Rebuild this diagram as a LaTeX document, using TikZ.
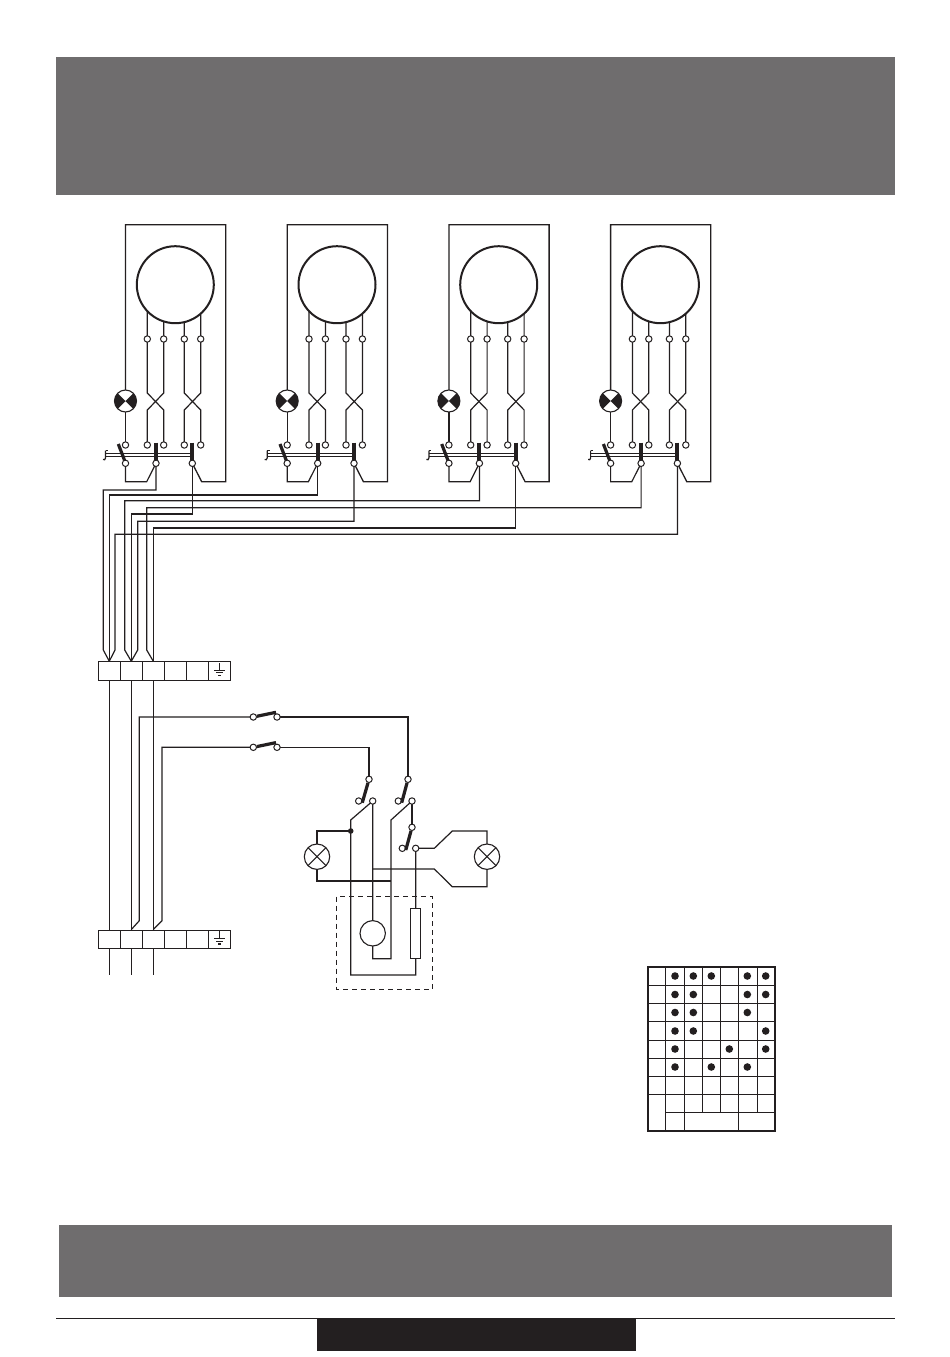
\documentclass[tikz,border=0pt]{standalone}
\usetikzlibrary{backgrounds}
\definecolor{band}{HTML}{6F6D6E}
\definecolor{ink}{HTML}{231F20}
\tikzset{
  wire/.style={draw=ink,line width=1.2pt,line join=miter},
  term/.style={circle,draw=ink,fill=white,line width=1pt,minimum size=6.4pt,inner sep=0pt},
  motorc/.style={circle,draw=ink,fill=white,line width=2pt,minimum size=77pt,inner sep=0pt},
  plainc/.style={circle,draw=ink,fill=white,line width=1.1pt,minimum size=25.4pt,inner sep=0pt},
  lampx/.style={plainc,path picture={\draw[ink,line width=1.1pt]
     (path picture bounding box.north west)--(path picture bounding box.south east)
     (path picture bounding box.north east)--(path picture bounding box.south west);}},
  lampb/.style={circle,draw=ink,fill=white,line width=1.1pt,minimum size=22pt,inner sep=0pt,path picture={\fill[ink]
     (path picture bounding box.center)--(path picture bounding box.north west)--(path picture bounding box.south west)--cycle
     (path picture bounding box.center)--(path picture bounding box.north east)--(path picture bounding box.south east)--cycle;}},
  bar/.style={draw=ink,line width=4pt},
  blade/.style={draw=ink,line width=3.2pt},
  cell/.style={rectangle,draw=ink,line width=1.1pt,minimum width=22pt,minimum height=18.4pt,inner sep=0pt},
  grid/.style={draw=ink,line width=1.1pt},
  dot/.style={circle,fill=ink,minimum size=7.6pt,inner sep=0pt},
}
\begin{document}
\begin{tikzpicture}[x=1pt,y=-1pt]
\useasboundingbox (0,0) rectangle (950,1357);
\begin{scope}[on background layer]
\fill[white] (0,0) rectangle (950,1357);
\end{scope}
% bands
\fill[band] (56,57) rectangle (895,195);
\fill[band] (59,1225) rectangle (892,1297);
\draw[ink,line width=1pt] (56,1318) -- (895,1318);
\fill[ink] (317,1318) rectangle (636,1351);
% motor units
\foreach \n in {0,1,2,3}{
 \pgfmathsetmacro{\dx}{\n*161.7}
 \begin{scope}[xshift=\dx pt]
  \node[motorc] (m\n) at (175.3,284.7) {};
  \node[lampb] (lamp\n) at (125.5,401) {};
  \foreach \k/\xx in {1/147.3,2/163.7,3/184.3,4/200.7}{
    \node[term] (t\k-\n) at (\xx,339) {};
    \node[term] (u\k-\n) at (\xx,445) {};
  }
  \node[term] (u0-\n) at (125.5,445) {};
  \coordinate (bt-\n) at (125.5,224.7);
  \coordinate (bu-\n) at (225.7,224.7);
  \coordinate (bd-\n) at (225.7,481.7);
  \coordinate (be-\n) at (201.7,481.7);
  \coordinate (la-\n) at (125.5,481.7);
  \coordinate (lb-\n) at (146.7,481.7);
  \draw[wire] (105.5,450.5) -- (108,450.5);
  \draw[wire] (105.5,450.5) -- (105.5,458) .. controls (105.5,460) and (104,460) .. (103,459.5);
  \draw[draw=ink,line width=0.9pt] (105.5,453.3) -- (192,453.3) (105.5,456.2) -- (192,456.2);
  \draw[blade] (118.3,444) -- (124.8,461);
  \draw[bar] (155.9,442.7) -- (155.9,461);
  \draw[bar] (192.3,442.7) -- (192.3,461);
  \node[term] (s1-\n) at (125.5,463.3) {};
  \node[term] (s2-\n) at (156,463.3) {};
  \node[term] (s3-\n) at (192.3,463.3) {};
  \begin{scope}[on background layer]
   \draw[wire,line width=1.3pt] (lamp\n.center) -- (bt-\n) -- (bu-\n) -- (bd-\n) -- (be-\n) -- (s3-\n.center);
   \draw[wire] (lamp\n.center) -- (u0-\n.center);
   \draw[wire] (s1-\n.center) -- (la-\n) -- (lb-\n) -- (s2-\n.center);
   \draw[wire] (m\n.center -| t1-\n) -- (t1-\n.center) -- ++(0,54) -- ++(16.4,17) -- (u2-\n.center);
   \draw[wire] (m\n.center -| t2-\n) -- (t2-\n.center) -- ++(0,54) -- ++(-16.4,17) -- (u1-\n.center);
   \draw[wire] (m\n.center -| t3-\n) -- (t3-\n.center) -- ++(0,54) -- ++(16.4,17) -- (u4-\n.center);
   \draw[wire] (m\n.center -| t4-\n) -- (t4-\n.center) -- ++(0,54) -- ++(-16.4,17) -- (u3-\n.center);
  \end{scope}
 \end{scope}
}
% terminal blocks
\foreach \k/\xx in {1/109.3,2/131.3,3/153.3,4/175.3,5/197.3,6/219.5}{
  \node[cell] (c\k) at (\xx,671) {};
  \node[cell] (d\k) at (\xx,939.3) {};
}
\foreach \b in {c,d}{
  \draw[ink,line width=1pt] (\b6.center) ++(0.4,-8) -- ++(0,7)
     ++(-5.5,0) -- ++(11,0) ++(-9,2.7) -- ++(7,0);
  \draw[ink,line width=1.2pt] (\b6.center) ++(-1.1,4.6) -- ++(3,0);
}
% bus from switches to block
\begin{scope}[on background layer]
\foreach \a/\yy/\xx/\cc in {
  s2-0/490/103.3/c1, s2-1/495/109.3/c1, s2-2/500.8/124.7/c2, s2-3/507.7/146.7/c3,
  s3-0/514/131.3/c2, s3-1/521.3/137.7/c2, s3-2/528/153.3/c3, s3-3/534.3/115/c1}{
  \draw[wire] (\a.center) |- (\xx,\yy) -- (\xx,650) -- (\cc.north);
}
\foreach \k in {1,2,3}{
  \draw[wire] (c\k.south) -- (d\k.north);
  \draw[wire] (d\k.south) -- ++(0,25.5);
}
\end{scope}
% mains switches
\node[term] (a1) at (253.3,717) {};
\node[term] (b1) at (277,717) {};
\node[term] (a2) at (253.3,747.3) {};
\node[term] (b2) at (277,747.3) {};
\draw[blade] (a1) -- (276,712.3);
\draw[blade] (a2) -- (276,742.6);
% selector switches
\node[term] (k1) at (369,779.3) {};
\node[term] (k1l) at (358.7,801) {};
\node[term] (k1r) at (372.7,801) {};
\node[term] (k2) at (408,779.3) {};
\node[term] (k2l) at (398.3,801) {};
\node[term] (k2r) at (412,801) {};
\node[term] (k3) at (412,827.3) {};
\node[term] (k3l) at (402.3,848.3) {};
\node[term] (k3r) at (415.7,848.3) {};
\draw[blade] (k1) -- (362.3,802.7);
\draw[blade] (k2) -- (401.7,802.7);
\draw[blade] (k3) -- (405.8,850);
% lamps, fan, resistor
\node[lampx] (ll) at (317,856.7) {};
\node[lampx] (lr) at (487,856.7) {};
\node[plainc] (fan) at (372.7,933.3) {};
\node[rectangle,draw=ink,fill=white,line width=1pt,minimum width=10pt,minimum height=50.4pt,inner sep=0pt] (res) at (415.7,933.5) {};
\node[dot,minimum size=5.6pt] (jn) at (350.7,831) {};
\draw[ink,line width=1pt,dash pattern=on 5pt off 4pt] (336.3,896.7) rectangle (432.7,989);
\begin{scope}[on background layer]
 \draw[wire] (d2.north) -- (139.3,920.7) -- (139.3,717) -- (a1.center);
 \draw[wire] (b1.center) -- (408,717) -- (k2.center);
 \draw[wire] (d3.north) -- (162,920.7) -- (162,747.3) -- (a2.center);
 \draw[wire] (b2.center) -- (369,747.3) -- (k1.center);
 \draw[wire] (k1r.center) -- (350.7,820) -- (jn.center) -- (350.7,975) -- (415.7,975) -- (res.center) -- (k3r.center)
    -- (434.3,848.3) -- (452.3,831) -- (487,831) -- (lr.center);
 \draw[wire] (lr.center) -- (487,886.7) -- (452.3,886.7) -- (434.3,869) -- (372.7,869);
 \draw[wire] (k1r.center) -- (fan.center) -- (372.7,958.7) -- (391,958.7) -- (391,820) -- (k2r.center);
 \draw[wire] (k2r.center) -- (k3.center);
 \draw[wire] (jn.center) -- (317,831) -- (ll.center) -- (317,881) -- (391,881);
\end{scope}
% table
\draw[ink,line width=2pt] (647.7,967) rectangle (775.3,1130.7);
\foreach \yy in {985.3,1003.3,1021.3,1040.3,1058.3,1076.3,1094.3}{
  \draw[grid] (647.7,\yy) -- (775.3,\yy);
}
\draw[grid] (665.3,1112.3) -- (775.3,1112.3);
\draw[grid] (665.3,967) -- (665.3,1130.7);
\draw[grid] (684.3,967) -- (684.3,1130.7);
\draw[grid] (738.3,967) -- (738.3,1130.7);
\foreach \xx in {702.3,720.3,757.3}{ \draw[grid] (\xx,967) -- (\xx,1112.3); }
\foreach \cx/\cy in {675/976,693.3/976,711.3/976,747.3/976,765.7/976,
  675/994.5,693.3/994.5,747.3/994.5,765.7/994.5,
  675/1012.5,693.3/1012.5,747.3/1012.5,
  675/1031,693.3/1031,765.7/1031,
  675/1049,729.3/1049,765.7/1049,
  675/1067,711.3/1067,747.3/1067}{
  \node[dot] at (\cx,\cy) {};
}
\end{tikzpicture}
\end{document}
